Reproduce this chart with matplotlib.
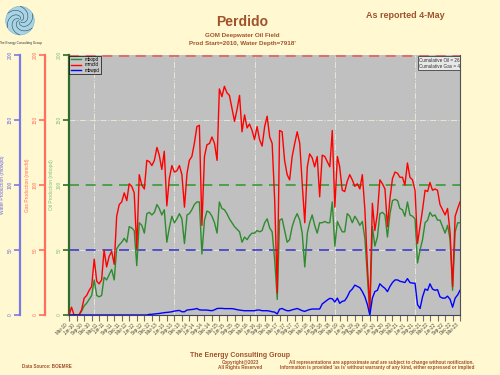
import numpy as np
import pandas as pd
import matplotlib
matplotlib.use("Agg")
import matplotlib.pyplot as plt
import matplotlib.dates as mdates
from matplotlib.patches import Circle

plt.rcParams['font.family'] = ['Liberation Sans', 'DejaVu Sans']

# monthly production, Mar-2010 .. Mar-2023
dates = pd.date_range("2010-03-01", periods=157, freq="MS")

oil = [0, 0, 0, 0, 0, 3, 7, 9, 12, 15,
       27, 15, 14, 15, 29, 27, 31, 35, 27, 51,
       54, 56, 59, 56, 68, 67, 65, 38, 71, 69,
       63, 78, 79, 77, 79, 85, 82, 77, 81, 56,
       67, 76, 71, 74, 78, 74, 55, 77, 78, 81,
       85, 87, 87, 47, 73, 80, 79, 76, 71, 63,
       87, 82, 81, 78, 74, 71, 68, 66, 64, 56,
       60, 58, 61, 63, 63, 65, 64, 65, 71, 74,
       67, 64, 42, 12, 73, 74, 65, 56, 58, 68,
       74, 78, 73, 63, 37, 63, 71, 77, 69, 63,
       71, 71, 72, 71, 71, 87, 53, 72, 68, 64,
       64, 78, 76, 71, 76, 73, 69, 72, 59, 29,
       1, 68, 53, 60, 78, 79, 77, 60, 78, 88,
       89, 88, 82, 81, 76, 87, 77, 76, 74, 40,
       50, 58, 71, 73, 79, 76, 77, 73, 73, 68,
       63, 69, 58, 19, 64, 71, 71]

gas = [0, 6, 0, 0, 0, 4, 13, 15, 19, 22,
       43, 26, 24, 27, 50, 37, 45, 49, 39, 76,
       85, 87, 94, 88, 101, 99, 94, 51, 108, 100,
       97, 119, 118, 115, 119, 129, 123, 112, 126, 84,
       105, 115, 110, 111, 115, 108, 83, 109, 119, 122,
       132, 145, 146, 69, 122, 131, 132, 137, 132, 119,
       174, 168, 176, 171, 169, 159, 149, 158, 169, 141,
       154, 144, 147, 142, 135, 145, 135, 130, 145, 153,
       137, 132, 88, 17, 142, 141, 119, 108, 104, 122,
       132, 141, 132, 101, 71, 114, 124, 121, 114, 122,
       91, 123, 122, 118, 114, 142, 83, 122, 114, 96,
       95, 103, 108, 104, 99, 101, 97, 108, 81, 37,
       4, 86, 65, 78, 104, 101, 97, 68, 90, 105,
       110, 109, 106, 106, 100, 117, 106, 104, 96, 55,
       68, 81, 96, 95, 102, 96, 97, 96, 85, 81,
       77, 82, 63, 22, 76, 82, 87]

water = [0.0] * 32 + [
    0.5, 0.5, 0.8, 1, 1.2, 1.5, 1.8, 2, 2.2, 2.5,
    3, 3.3, 3.5, 2.5, 2.5, 3.8, 4, 4.2, 4.5, 5,
    4, 3.8, 3.8, 3.8, 3.5, 3.3, 4, 5, 5.1, 5.1,
    4.9, 4.9, 4.9, 4.9, 4.6, 4.1, 3.8, 3.5, 3.3, 3.3,
    3.3, 3.3, 3.3, 3.8, 3.8, 3.3, 3.3, 3.3, 3, 2.5,
    2.2, 0.8, 4.5, 5, 4, 3.3, 3.3, 4, 4.5, 5,
    4.2, 3.3, 2.8, 3.6, 4.2, 4.6, 4.6, 4.6, 4.6, 8.5,
    10, 11.5, 12.8, 12.5, 10, 13, 9, 10.5, 11, 14,
    18, 20, 23, 22, 21, 18, 14, 8, 0, 13,
    18, 19, 24, 22, 20.5, 18, 22, 25, 27, 27,
    26, 25.5, 25, 28, 25, 24.5, 24.5, 8, 5, 14,
    20, 19, 24, 20, 19, 19.5, 14, 13, 13, 14.5,
    12, 6, 13, 15.5, 19]

yticks = [0, 50, 100, 150, 200]
grid_dates = pd.to_datetime(["2011-01-01", "2013-09-01", "2016-05-01", "2019-01-01", "2021-09-01"])

bg = '#fff8d0'
brown = '#a0522d'

fig = plt.figure(figsize=(5, 3.75), dpi=100, facecolor=bg)
ax = fig.add_axes([0.138, 0.16, 0.782, 0.693])
ax.set_facecolor('#c0c0c0')

ax_gas = ax.twinx()
ax_wat = ax.twinx()

# offsets in points (1 pt = 1.39 px here)
axes_info = [
    (ax, 0, '#2e6b2e', '#7cc47c', 'Oil Production (mbopd)'),
    (ax_gas, 17.5, '#ff6f5e', '#ff6f5e', 'Gas Production (mmcfd)'),
    (ax_wat, 35.5, '#7a7ae6', '#6a6ae0', 'Water Production (mbwpd)'),
]
for a, off, spc, lc, lab in axes_info:
    for s in ['top', 'right', 'bottom']:
        a.spines[s].set_visible(False)
    a.spines['left'].set_visible(True)
    a.spines['left'].set_position(('outward', off))
    a.spines['left'].set_color(spc)
    a.spines['left'].set_linewidth(1.6)
    a.yaxis.set_ticks_position('left')
    a.yaxis.set_label_position('left')
    a.set_ylim(0, 200)
    a.set_yticks(yticks)
    a.tick_params(axis='y', colors=spc, labelcolor=lc, labelsize=3.5,
                  length=4, width=1.2, labelrotation=90, pad=1)
    for t in a.get_yticklabels():
        t.set_va('center')
    a.set_ylabel(lab, color=lc, fontsize=3.5, labelpad=2)
    if a is not ax:
        a.patch.set_visible(False)

ax.spines['right'].set_visible(True)
ax.spines['right'].set_color('#505050')
ax.spines['bottom'].set_visible(True)
ax.spines['bottom'].set_color('#404060')

# grid and reference lines
for v in [50, 150]:
    ax.axhline(v, color='#e6e6d8', lw=0.7, ls='-.', zorder=1)
for d in grid_dates:
    ax.axvline(d, color='#e6e6d8', lw=0.7, ls='-.', zorder=1)
ax.axhline(100, color='#3a9a3a', lw=1.2, ls=(0, (6, 4)), zorder=2)
ax.axhline(50, color='#3c3cc8', lw=1.2, ls=(0, (6, 4)), zorder=2)
ax.axhline(199.5, color='#e06060', lw=1.2, ls=(0, (6, 4)), zorder=2)

l1, = ax.plot(dates, oil, color='#2e8b2e', lw=1.0, zorder=3)
l2, = ax_gas.plot(dates, gas, color='#ff0000', lw=1.0)
l3, = ax_wat.plot(dates, water, color='#0000ff', lw=1.0)

ax.set_xlim(dates[0], dates[-1])
ax.xaxis.set_major_locator(mdates.MonthLocator(bymonth=[3, 6, 9, 12]))
ax.xaxis.set_major_formatter(mdates.DateFormatter('%b-%y'))
ax.tick_params(axis='x', labelsize=3.3, colors='#707070', labelcolor='#404040',
               length=4, labelrotation=45, pad=1)
for t in ax.get_xticklabels():
    t.set_ha('right')

leg = ax_wat.legend([l1, l2, l3], ['mbopd', 'mmcfd', 'mbwpd'], loc='upper left',
                    fontsize=3.3, frameon=True, borderaxespad=0.1, borderpad=0.3,
                    handlelength=2.2, labelspacing=0.1, fancybox=False)
leg.get_frame().set_edgecolor('black')
leg.get_frame().set_facecolor('#c8c8c8')
leg.get_frame().set_linewidth(0.6)

ax_wat.text(0.895, 0.99, 'Cumulative Oil = 262 mmbo\nCumulative Gas = 421 bcf',
            transform=ax_wat.transAxes, fontsize=3.3, va='top', ha='left',
            color='#303030', clip_on=True,
            bbox=dict(boxstyle='square,pad=0.3', fc='#e8e8e8', ec='#404040', lw=0.6))

# titles
fig.text(0.484, 0.94, 'Perdido', fontsize=10, fontweight='bold', color=brown, ha='center', va='center')
fig.text(0.484, 0.905, 'GOM Deepwater Oil Field', fontsize=4.5, fontweight='bold', color=brown, ha='center', va='center')
fig.text(0.484, 0.884, "Prod Start=2010, Water Depth=7918'", fontsize=4.5, fontweight='bold', color=brown, ha='center', va='center')
fig.text(0.81, 0.958, 'As reported 4-May', fontsize=6.5, fontweight='bold', color=brown, ha='center', va='center')

# footer
fig.text(0.48, 0.051, 'The Energy Consulting Group', fontsize=5, fontweight='bold', color=brown, ha='center', va='center')
fig.text(0.48, 0.034, 'Copyright@2023', fontsize=3.3, fontweight='bold', color=brown, ha='center', va='center')
fig.text(0.48, 0.02, 'All Rights Reserved', fontsize=3.3, fontweight='bold', color=brown, ha='center', va='center')
fig.text(0.044, 0.024, 'Data Source: BOEMRE', fontsize=3.3, fontweight='bold', color=brown, ha='left', va='center')
fig.text(0.948, 0.034, 'All representations are approximate and are subject to change without notification.',
         fontsize=3.3, fontweight='bold', color=brown, ha='right', va='center')
fig.text(0.948, 0.02, "Information is provided 'as is' without warranty of any kind, either expressed or implied",
         fontsize=3.3, fontweight='bold', color=brown, ha='right', va='center')

# logo
lax = fig.add_axes([0.01, 0.9, 0.06, 0.09])
lax.set_aspect('equal')
lax.axis('off')
lax.set_xlim(-1.05, 1.05)
lax.set_ylim(-1.05, 1.05)
lax.add_patch(Circle((0, 0), 1, fc='#a8d4e6', ec='#88b8cc', lw=0.5))
th = np.linspace(0, 2.6, 40)
for k in range(6):
    r = 0.1 + th / 2.9
    lax.plot(r * np.cos(th + k * np.pi / 3), r * np.sin(th + k * np.pi / 3), color='#2a4a5a', lw=0.4)
fig.text(0.04, 0.885, 'The Energy Consulting Group', fontsize=2.3, color='#303030', ha='center', va='center')

fig.savefig('out.png', dpi=100, facecolor=bg)
